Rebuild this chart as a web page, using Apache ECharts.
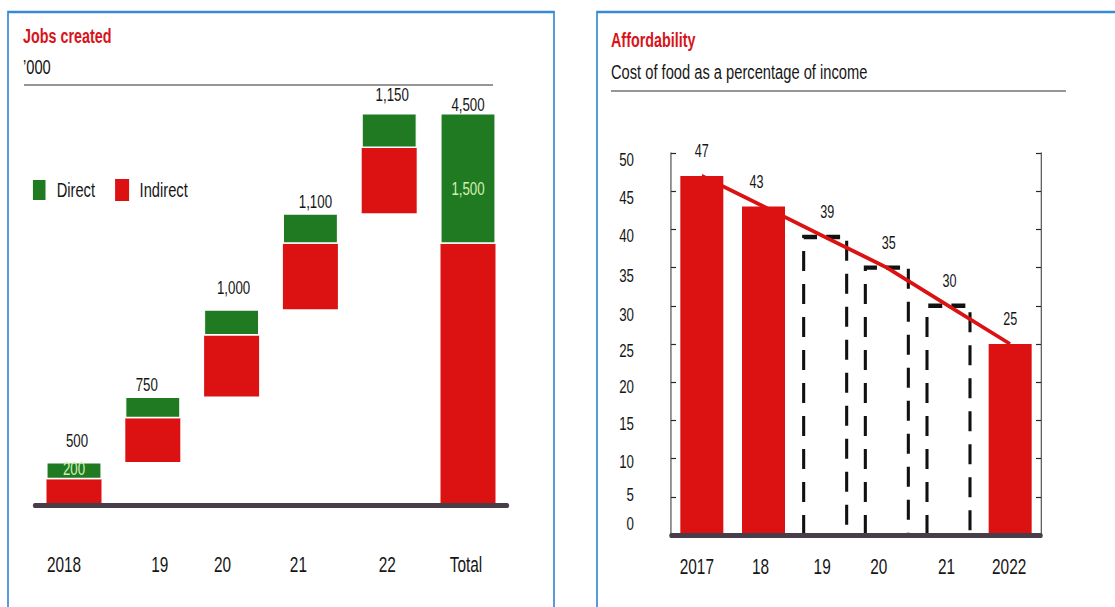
<!DOCTYPE html>
<html>
<head>
<meta charset="utf-8">
<script src="https://cdn.jsdelivr.net/npm/echarts@6/dist/echarts.min.js"></script>
<style>
  html, body { margin: 0; padding: 0; background: #ffffff; overflow: hidden; }
  #frame { width: 1115px; height: 607px; overflow: hidden; position: relative; }
  #chart { position: absolute; left: 0; top: 0; height: 607px; transform-origin: 0 0; }
</style>
</head>
<body>
<div id="frame"><div id="chart"></div></div>
<script>
// Jobs created, '000
const jobsYears = ['2018', '19', '20', '21', '22', 'Total'];
const jobsDirect = [200, 250, 300, 350, 400, 1500];
const jobsIndirect = [300, 500, 700, 750, 750, 3000];
const jobsDirectLabelled = [true, false, false, false, false, true];

// Affordability: cost of food as a percentage of income
const foodYears = ['2017', '18', '19', '20', '21', '2022'];
const foodCost = [47, 43, 39, 35, 30, 25];
const foodProjected = [false, false, true, true, true, false];

// small typographic nudges for hand-set labels (page pixels)
const jobsTickNudge = [-10, 7, -9, -12, -2, -2];
const jobsTotalNudge = [[3, 22], [-6, 12], [2, 22], [5, 12], [3, 19], [0, 9]];
const jobsInsideNudge = [-3, 0, 0, 0, 0, 10];
const foodTickNudge = [-5, -3, -3, -8, -2, -1];
const foodValueNudge = [0, -7, 2, 2, 1, 0];
const foodAxisNudge = { 50: 6, 45: 6, 40: 6, 35: 7, 30: 8, 25: 6, 20: 4, 15: 3, 10: 2, 5: -3, 0: -12 };

// The house face is a condensed sans; the chart is laid out wide and
// squeezed horizontally so ordinary sans glyphs take condensed proportions.
const S = 0.7;
const W = 1115 / S;
const H = 607;
const px = x => x / S;

const FONT = "'Liberation Sans', Arial, sans-serif";
const RED = '#dc1212';
const GREEN = '#1f7a21';
const BASE = '#4a3d4a';
const INK = '#161616';
const FRAME = '#3a89d6';
const FOOD_BAR = px(43);

// waterfall: each year starts where the previous one ended; the total starts at zero
const jobsTotals = jobsDirect.map((d, i) => d + jobsIndirect[i]);
const jobsBase = jobsTotals.map((_, i) => {
  if (i === jobsTotals.length - 1) return 0;
  let s = 0;
  for (let k = 0; k < i; k++) s += jobsTotals[k];
  return s;
});
const jobsTop = jobsTotals.map((t, i) => jobsBase[i] + t);
const fmt = v => v.toLocaleString('en-US');

function nudgedTicks(labels, nudges, size) {
  const rich = {};
  nudges.forEach((d, i) => {
    const p = 2 * Math.abs(d) / S;
    rich['n' + i] = {
      fontFamily: FONT, fontSize: size, color: INK,
      padding: d >= 0 ? [0, 0, 0, p] : [0, p, 0, 0]
    };
  });
  return {
    rich,
    formatter: val => '{n' + labels.indexOf(val) + '|' + val + '}'
  };
}

function nudgedValueTicks(map, size) {
  const rich = {};
  Object.keys(map).forEach(k => {
    const d = map[k];
    rich['v' + k] = {
      fontFamily: FONT, fontSize: size, color: INK,
      padding: d >= 0 ? [2 * d, 0, 0, 0] : [0, 0, -2 * d, 0]
    };
  });
  return {
    rich,
    formatter: val => (('v' + val) in rich) ? '{v' + val + '|' + val + '}' : String(val)
  };
}

const jobsTicks = nudgedTicks(jobsYears, jobsTickNudge, 22);
const foodTicks = nudgedTicks(foodYears, foodTickNudge, 22);
const foodValueTicks = nudgedValueTicks(foodAxisNudge, 19);

// open-bottomed dashed outline for projected years
function projectedOutline(params, api) {
  const i = api.value(0);
  const top = api.coord([i, api.value(1)]);
  const bottom = api.coord([i, 0]);
  const half = FOOD_BAR / 2;
  return {
    type: 'polyline',
    shape: {
      points: [
        [top[0] - half, bottom[1]],
        [top[0] - half, top[1]],
        [top[0] + half, top[1]],
        [top[0] + half, bottom[1]]
      ]
    },
    style: { fill: null, stroke: '#111111', lineWidth: 4.4, lineDash: [20, 13], lineCap: 'butt' }
  };
}

const el = document.getElementById('chart');
el.style.width = W + 'px';
el.style.transform = 'scaleX(' + S + ')';
const chart = echarts.init(el, null, { renderer: 'svg', width: W, height: H });

const titleStyle = { fontFamily: FONT, fontSize: 20.5, fontWeight: 'bold', color: '#d8141a' };
const subStyle = { fontFamily: FONT, fontSize: 21, fontWeight: 'normal', color: INK };

const option = {
  backgroundColor: '#ffffff',
  animation: false,
  textStyle: { fontFamily: FONT },
  title: [
    { text: 'Jobs created', left: px(23), top: 26, padding: 0, textStyle: titleStyle },
    { text: '\u2019000', left: px(23), top: 57, padding: 0, textStyle: subStyle },
    { text: 'Affordability', left: px(611), top: 30, padding: 0, textStyle: titleStyle },
    { text: 'Cost of food as a percentage of income', left: px(611), top: 62, padding: 0, textStyle: subStyle }
  ],
  legend: {
    data: ['Direct', 'Indirect'],
    left: px(28), top: 173,
    icon: 'rect',
    itemWidth: px(14), itemHeight: 22, itemGap: px(20),
    textStyle: { fontFamily: FONT, fontSize: 21, color: INK, padding: [6, 0, 0, px(7)] }
  },
  graphic: [
    { type: 'rect', silent: true, shape: { x: px(8), y: 12, width: px(546), height: 640 },
      style: { fill: 'none', stroke: FRAME, lineWidth: 2.4 } },
    { type: 'rect', silent: true, shape: { x: px(597), y: 12, width: px(560), height: 640 },
      style: { fill: 'none', stroke: FRAME, lineWidth: 2.4 } },
    { type: 'line', silent: true, shape: { x1: px(24), y1: 85, x2: px(493), y2: 85 },
      style: { stroke: '#2e2e2e', lineWidth: 1.2 } },
    { type: 'line', silent: true, shape: { x1: px(611), y1: 91, x2: px(1066), y2: 91 },
      style: { stroke: '#2e2e2e', lineWidth: 1.2 } }
  ],
  grid: [
    { left: px(34.6), right: px(607.6), top: 113, bottom: 101.5 },
    { left: px(671), right: px(74), top: 153, bottom: 72 }
  ],
  xAxis: [
    {
      gridIndex: 0, type: 'category', data: jobsYears, z: 10,
      axisLine: { show: true, lineStyle: { color: BASE, width: 5 } },
      axisTick: { show: false },
      axisLabel: Object.assign({ margin: 48, interval: 0 }, jobsTicks)
    },
    {
      gridIndex: 1, type: 'category', data: foodYears, z: 10,
      axisLine: { show: true, lineStyle: { color: BASE, width: 5 } },
      axisTick: { show: false },
      axisLabel: Object.assign({ margin: 20, interval: 0 }, foodTicks)
    }
  ],
  yAxis: [
    { gridIndex: 0, type: 'value', min: 0, max: 4500, show: false },
    {
      gridIndex: 1, type: 'value', min: 0, max: 50, interval: 5, position: 'left',
      axisLine: { show: true, lineStyle: { color: '#2a2a2a', width: 1.4 } },
      axisTick: { show: true, inside: true, length: px(5), lineStyle: { color: '#2a2a2a', width: 1.2 } },
      axisLabel: Object.assign({ margin: px(37), fontFamily: FONT, fontSize: 19, color: INK }, foodValueTicks),
      splitLine: { show: false }
    },
    {
      gridIndex: 1, type: 'value', min: 0, max: 50, interval: 5, position: 'right',
      axisLine: { show: true, lineStyle: { color: '#2a2a2a', width: 1.4 } },
      axisTick: { show: true, inside: true, length: px(5), lineStyle: { color: '#2a2a2a', width: 1.2 } },
      axisLabel: { show: false },
      splitLine: { show: false }
    }
  ],
  series: [
    {
      name: 'base', type: 'bar', xAxisIndex: 0, yAxisIndex: 0, stack: 'jobs',
      barWidth: px(55), silent: true,
      itemStyle: { color: 'rgba(0,0,0,0)' },
      data: jobsBase
    },
    {
      name: 'Indirect', type: 'bar', xAxisIndex: 0, yAxisIndex: 0, stack: 'jobs',
      barWidth: px(55), itemStyle: { color: RED },
      data: jobsIndirect
    },
    {
      name: 'Direct', type: 'bar', xAxisIndex: 0, yAxisIndex: 0, stack: 'jobs',
      barWidth: px(55),
      itemStyle: { color: GREEN, borderColor: '#ffffff', borderWidth: 1.5 },
      label: {
        show: true, position: 'inside',
        fontFamily: FONT, fontSize: 19, color: '#d2f0b4',
        formatter: p => jobsDirectLabelled[p.dataIndex] ? fmt(p.value) : ''
      },
      data: jobsDirect.map((v, i) => ({ value: v, label: { offset: [0, jobsInsideNudge[i]] } }))
    },
    {
      name: 'total', type: 'scatter', xAxisIndex: 0, yAxisIndex: 0,
      symbolSize: 0, silent: true,
      itemStyle: { opacity: 1 },
      label: {
        show: true, position: 'inside',
        fontFamily: FONT, fontSize: 19, color: INK,
        formatter: p => fmt(jobsTotals[p.dataIndex])
      },
      data: jobsTop.map((v, i) => ({
        value: v,
        label: { offset: [px(jobsTotalNudge[i][0]), -jobsTotalNudge[i][1]] }
      }))
    },
    {
      name: 'cost', type: 'bar', xAxisIndex: 1, yAxisIndex: 1,
      barWidth: FOOD_BAR,
      label: {
        show: true, position: 'top', distance: 16,
        fontFamily: FONT, fontSize: 18, color: INK
      },
      data: foodCost.map((v, i) => ({
        value: v,
        label: { offset: [px(foodValueNudge[i]), 0] },
        itemStyle: { color: foodProjected[i] ? 'rgba(0,0,0,0)' : RED }
      }))
    },
    {
      name: 'projected', type: 'custom', xAxisIndex: 1, yAxisIndex: 1,
      silent: true, z: 3,
      renderItem: projectedOutline,
      encode: { x: 0, y: 1 },
      data: foodCost.map((v, i) => [i, v]).filter((_, i) => foodProjected[i])
    },
    {
      name: 'trend', type: 'line', xAxisIndex: 1, yAxisIndex: 1,
      data: foodCost, z: 5,
      symbol: 'none',
      lineStyle: { color: RED, width: 4 }
    }
  ]
};

chart.setOption(option);
</script>
</body>
</html>
